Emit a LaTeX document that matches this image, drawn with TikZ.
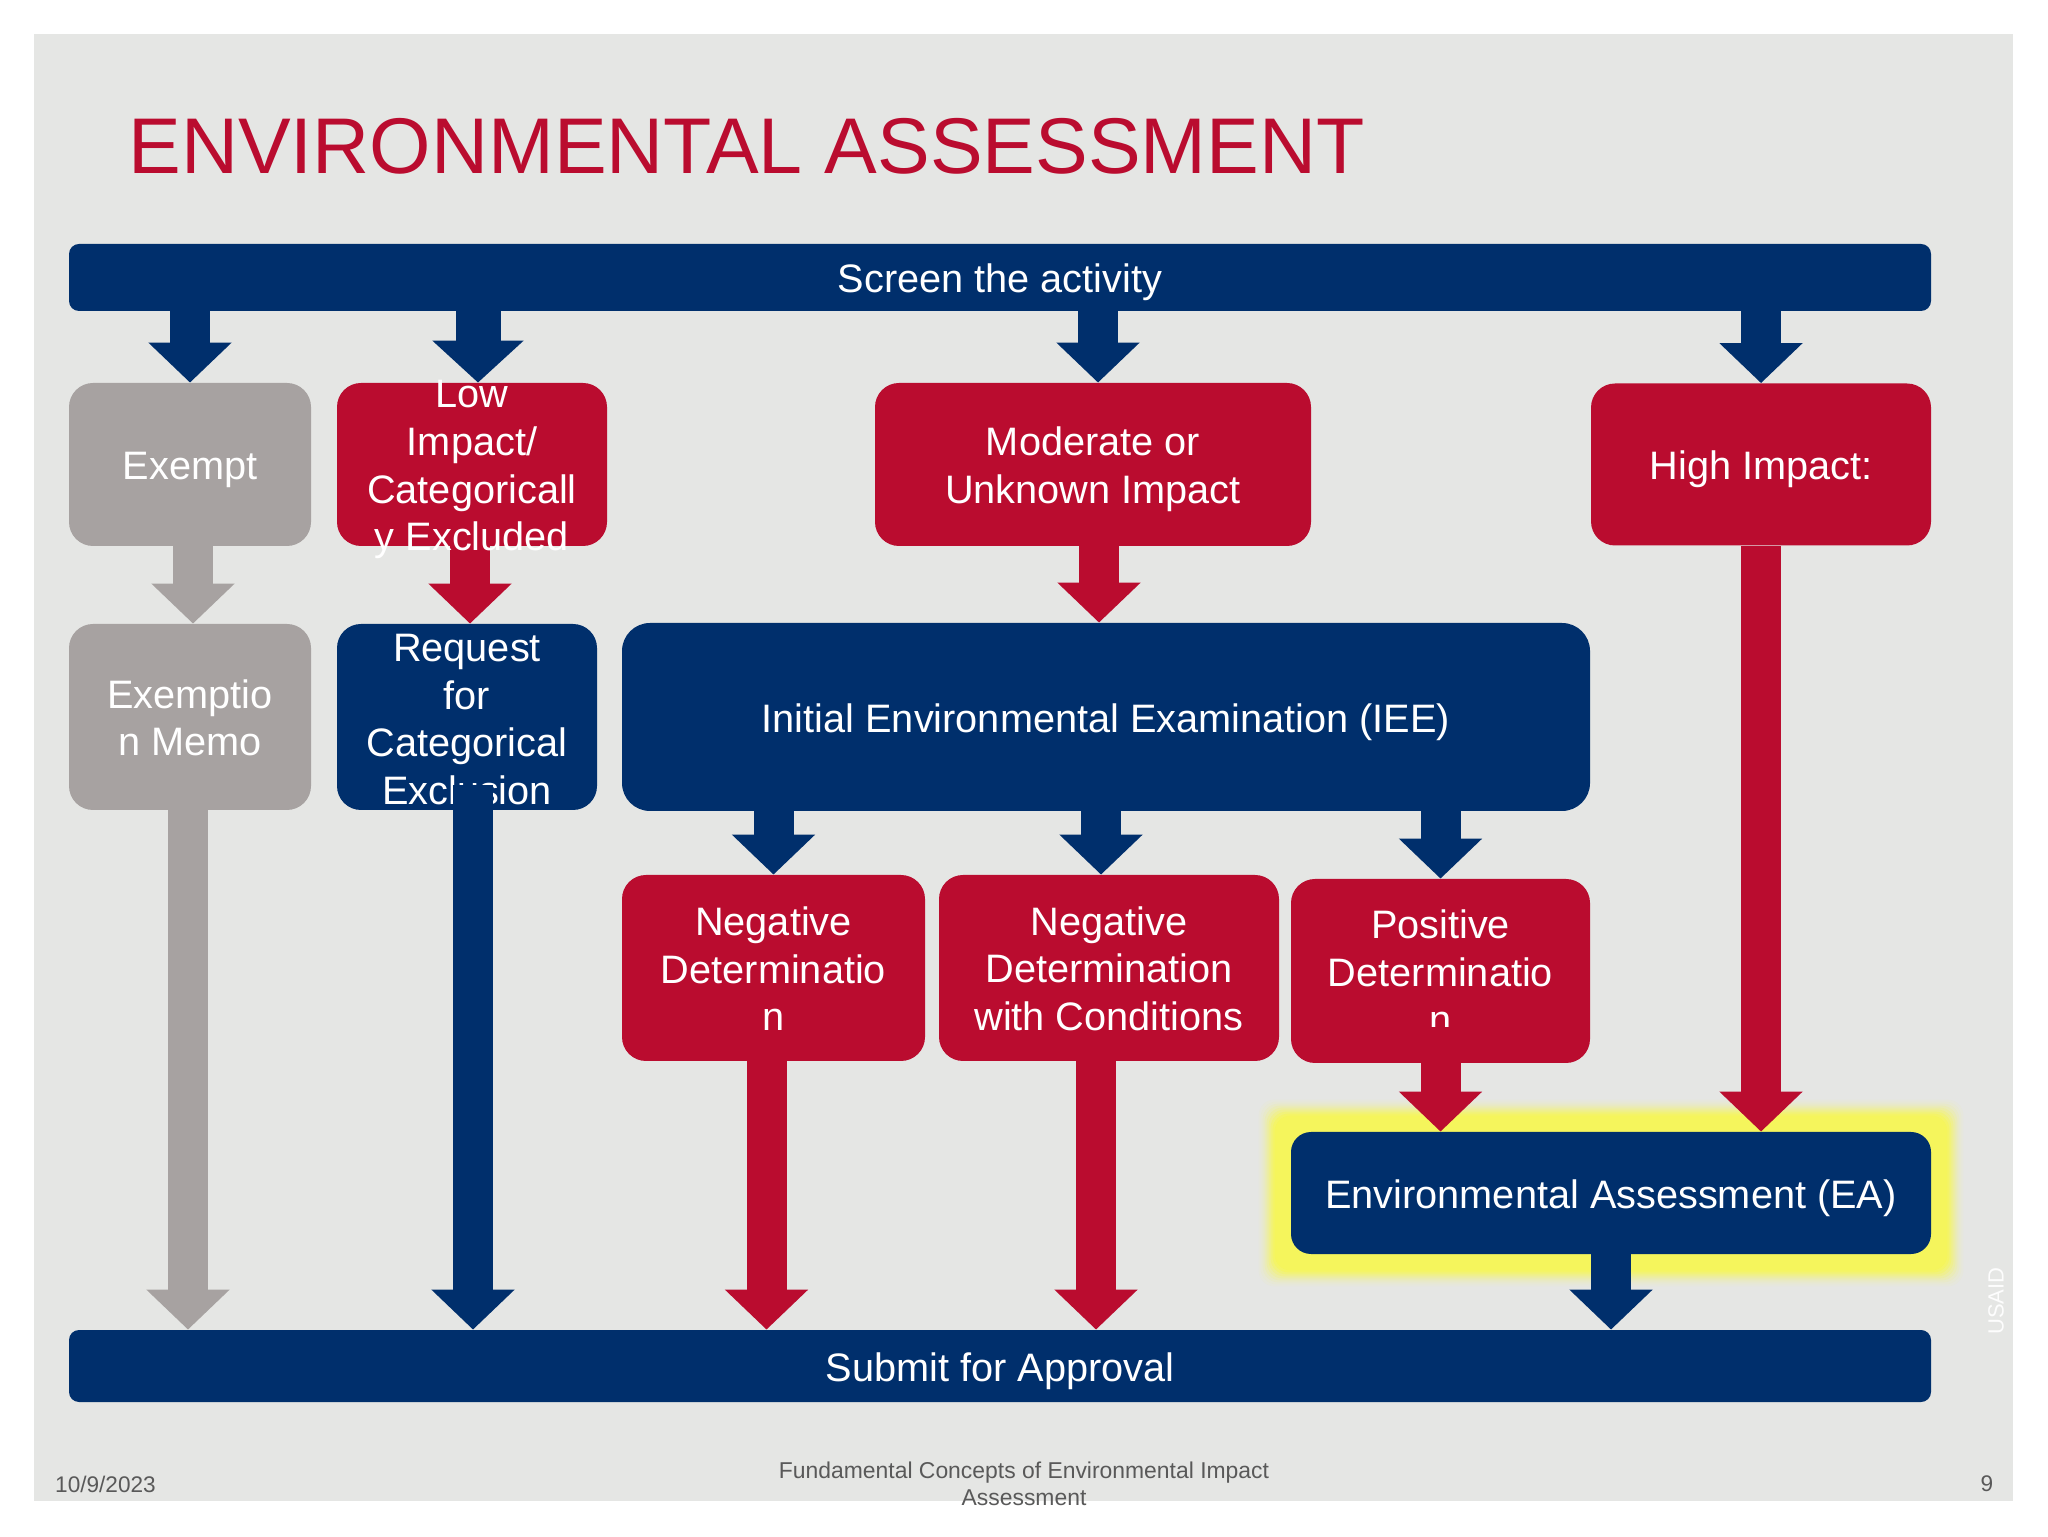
\documentclass[tikz,border=0pt]{standalone}
\usepackage{fontspec}
\setmainfont{Liberation Sans}
\usepackage{xcolor}
\usepackage{tikz}
\usetikzlibrary{arrows.meta,backgrounds,calc,positioning}
\definecolor{slidebg}{HTML}{E5E6E4}
\definecolor{navy}{HTML}{002F6C}
\definecolor{crimson}{HTML}{BA0C2F}
\definecolor{stone}{HTML}{A7A2A1}
\definecolor{glow}{HTML}{F5F55C}
\definecolor{footgrey}{HTML}{595959}
\newcommand{\blocklines}[2][-5.5pt]{\smash{\makebox[0pt]{\raisebox{#1}{\parbox[c]{170pt}{\centering #2}}}}}
\tikzset{%
	block/.style     = {rectangle, rounded corners=12pt, text=white, align=center, inner sep=0pt, font=\fontsize{19.85}{23.8}\selectfont},
	redblock/.style  = {block, fill=crimson},
	navyblock/.style = {block, fill=navy},
	greyblock/.style = {block, fill=stone},
	oneline/.style   = {text height=15.2pt, text depth=0pt},
	bar/.style       = {navyblock, oneline, rounded corners=5pt, minimum width=931pt},
	footer/.style    = {text=footgrey, align=center, inner sep=0pt, font=\fontsize{11.3}{13.7}\selectfont},
	blockarrow/.style = {line width=20pt, -{Triangle[length=20pt,width=40.5pt]}},
}
\begin{document}
\begin{tikzpicture}
	\useasboundingbox (0,0) rectangle (1024pt,768pt);

	% title and the two bars
	\node [anchor=base west, inner sep=0pt, text=crimson, font=\fontsize{39.5}{48}\selectfont] (title) at (64pt,681pt) {ENVIRONMENTAL ASSESSMENT};
	\node [bar, minimum height=33.5pt] (screen) at (500pt,629.25pt) {Screen the activity};
	\node [bar, minimum height=36pt] (submit) [below of=screen,node distance=544.25pt] {Submit for Approval};

	% first row
	\node [greyblock, oneline, minimum width=121pt, minimum height=81.5pt] (exempt) at (95pt,535.75pt) {Exempt};
	\node [redblock, minimum width=135pt, minimum height=81.5pt] (low) [right of=exempt,node distance=141pt] {\blocklines[-7.8pt]{Low\\Impact/\\Categoricall\\y Excluded}};
	\node [redblock, minimum width=218pt, minimum height=81.5pt] (moderate) [right of=low,node distance=310.5pt] {\blocklines[-7.5pt]{Moderate or\\Unknown Impact}};
	\node [redblock, oneline, minimum width=170pt, minimum height=81pt] (high) [right of=moderate,node distance=334pt] {High Impact:};

	% second row
	\node [greyblock, minimum width=121pt, minimum height=93pt] (memo) [below of=exempt,node distance=126.25pt] {\blocklines{Exemptio\\n Memo}};
	\node [navyblock, minimum width=130pt, minimum height=93pt] (request) [below of=low,node distance=126.25pt,xshift=-2.5pt] {\blocklines[-6.5pt]{Request\\for\\Categorical\\Exclusion}};
	\node [navyblock, oneline, minimum width=484pt, minimum height=94pt, rounded corners=14pt] (iee) [right of=request,node distance=319.5pt] {Initial Environmental Examination (IEE)};

	% third row
	\node [redblock, minimum width=151.5pt, minimum height=93pt] (negative) at (386.75pt,284pt) {\blocklines{Negative\\Determinatio\\n}};
	\node [redblock, minimum width=170pt, minimum height=93pt] (conditions) [right of=negative,node distance=167.75pt] {\blocklines{Negative\\Determination\\with Conditions}};
	\node [redblock, minimum width=149.5pt, minimum height=92pt] (positive) [right of=conditions,node distance=165.75pt,yshift=-1.5pt] {\blocklines{Positive\\Determinatio\\n}};
	\node [navyblock, oneline, minimum width=320pt, minimum height=61pt, rounded corners=10pt] (ea) at (805.5pt,171.5pt) {Environmental Assessment (EA)};

	% footer
	\node [footer, anchor=west] (date) at (27.4pt,26pt) {10/9/2023};
	\node [footer, font=\fontsize{11.45}{13.7}\selectfont] (topic) at (512pt,26pt) {Fundamental Concepts of Environmental Impact\\Assessment};
	\node [footer] (page) at (993.5pt,26pt) {9};
	\node [footer, rotate=90, text=white!92!slidebg, font=\fontsize{11}{13}\selectfont] (usaid) at (998pt,117.4pt) {USAID};

	\begin{pgfonlayer}{background}
		\fill [slidebg] (17pt,17.5pt) rectangle (1006.5pt,751pt);
		\foreach \g/\c in {16/5,15/11,14/20,13/32,12/46,11/62,10/78,9/92,8/100} {
			\fill [glow!\c!slidebg, rounded corners=8pt] ($(ea.south west)+(-\g pt,-\g pt)$) rectangle ($(ea.north east)+(\g pt,\g pt)$);
		}
		\draw [blockarrow, crimson] ([xshift=-1pt]low.south) -- ([xshift=1.5pt]request.north);
	\end{pgfonlayer}

	% from the top bar
	\draw [blockarrow, navy] (screen.south -| exempt) -- (exempt.north);
	\draw [navy, line width=22.5pt, -{Triangle[length=21pt,width=44.5pt]}] ([xshift=3pt]low.north |- screen.south) -- ([xshift=3pt]low.north);
	\draw [blockarrow, navy] ([xshift=2.5pt]moderate.north |- screen.south) -- ([xshift=2.5pt]moderate.north);
	\draw [blockarrow, navy] (screen.south -| high) -- (high.north);

	% row to row
	\draw [blockarrow, stone] ([xshift=1.5pt]exempt.south) -- ([xshift=1.5pt]memo.north);
	\draw [blockarrow, crimson] ([xshift=3pt]moderate.south) -- ([xshift=3pt]moderate.south |- iee.north);
	\draw [blockarrow, navy] (iee.south -| negative) -- (negative.north);
	\draw [blockarrow, navy] ([xshift=-4pt]conditions.north |- iee.south) -- ([xshift=-4pt]conditions.north);
	\draw [blockarrow, navy] (iee.south -| positive) -- (positive.north);

	% down to the bottom bar
	\draw [blockarrow, stone] ([xshift=-1pt]memo.south) -- ([xshift=-1pt]memo.south |- submit.north);
	\draw [blockarrow, navy] ([xshift=3pt,yshift=12.5pt]request.south) -- ([xshift=3pt]request.south |- submit.north);
	\draw [blockarrow, crimson] ([xshift=-3.5pt]negative.south) -- ([xshift=-3.5pt]negative.south |- submit.north);
	\draw [blockarrow, crimson] ([xshift=-6.5pt]conditions.south) -- ([xshift=-6.5pt]conditions.south |- submit.north);
	\draw [blockarrow, navy] (ea.south) -- (ea.south |- submit.north);

	% into the assessment
	\draw [blockarrow, crimson] ([yshift=18pt]positive.south) -- (positive.south |- ea.north);
	\draw [blockarrow, crimson] (high.south) -- (high.south |- ea.north);
\end{tikzpicture}
\end{document}
